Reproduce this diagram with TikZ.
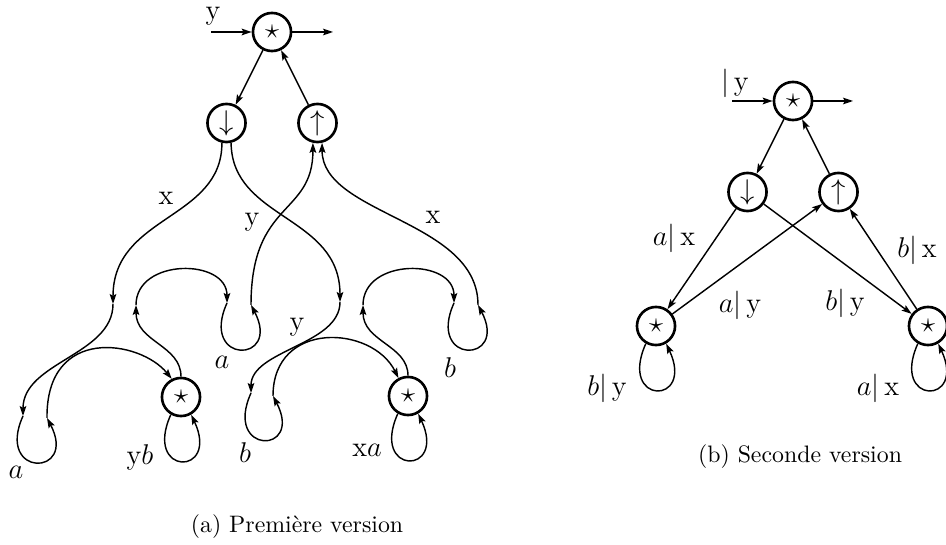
\documentclass[tikz,border=0pt]{standalone}
\usetikzlibrary{arrows.meta}
\begin{document}
\begin{tikzpicture}[x=0.42pt,y=-0.42pt,
  circ/.style={circle,draw,line width=1.1pt,minimum size=16pt,inner sep=0pt,font=\large},
  edge/.style={line width=0.6pt,-{Stealth[length=4.2pt,width=2.8pt,inset=0.8pt]}},
  lbl/.style={inner sep=0pt,font=\large},
  captxt/.style={inner sep=1pt}]
\useasboundingbox (0,0) rectangle (946,545);

% ---------- (a) ----------
\node[circ] (S0) at (272,32) {$\star$};
\node[circ] (D) at (226.5,123) {$\downarrow$};
\node[circ] (U) at (317.5,123) {$\uparrow$};
\node[circ] (S1) at (181,397) {$\star$};
\node[circ] (S2) at (408,396) {$\star$};
\coordinate (in0) at (211,32);
\coordinate (out0) at (333,32);
\coordinate (P1) at (113,304);
\coordinate (A1i) at (23,416);
\coordinate (A1o) at (47,418);
\coordinate (P3) at (136,305);
\coordinate (A2i) at (227,303);
\coordinate (A2o) at (251,305);
\coordinate (P4) at (340,302);
\coordinate (B1i) at (251,393);
\coordinate (B1o) at (273,396);
\coordinate (P5) at (363,305);
\coordinate (B2i) at (454,303);
\coordinate (B2o) at (478,305);

\draw[edge] (in0) -- (S0);
\draw[edge] (S0) -- (out0);
\draw[edge] (S0) -- (D);
\draw[edge] (U) -- (S0);
\draw[edge] (D.-103) .. controls (222,220) and (113,215) .. (P1);
\draw[edge] (D.-77) .. controls (232,220) and (340,215) .. (P4);
\draw[edge] (P1) .. controls (113,355) and (23,362) .. (A1i);
\draw[edge] (A1i) .. controls +(-28,62) and +(31,59) .. (A1o);
\draw[edge] (A1o) .. controls (46,325) and (140,340) .. (S1.117);
\draw[edge] (S1.north) .. controls (181,345) and (136,342) .. (P3);
\draw[edge] (P3) .. controls (136,258) and (227,258) .. (A2i);
\draw[edge] (A2i) .. controls +(-28,62) and +(31,59) .. (A2o);
\draw[edge] (A2o) .. controls (251,200) and (313,216) .. (U.-103);
\draw[edge] (P4) .. controls (340,345) and (251,350) .. (B1i);
\draw[edge] (B1i) .. controls +(-28,62) and +(31,59) .. (B1o);
\draw[edge] (B1o) .. controls (273,320) and (372,325) .. (S2.118);
\draw[edge] (S2.north) .. controls (408,345) and (363,342) .. (P5);
\draw[edge] (P5) .. controls (363,258) and (454,258) .. (B2i);
\draw[edge] (B2i) .. controls +(-28,62) and +(31,59) .. (B2o);
\draw[edge] (B2o) .. controls (478,220) and (322,215) .. (U.-77);
\draw[edge] (S1.-120) .. controls +(-28,62) and +(29,62) .. (S1.-60);
\draw[edge] (S2.-120) .. controls +(-28,62) and +(29,62) .. (S2.-60);

\node[lbl] (la1) at (213,16.5) {y};
\node[lbl] (la2) at (166,198) {x};
\node[lbl] (la3) at (252,222) {y};
\node[lbl] (la4) at (433,217) {x};
\node[lbl] (la5) at (297,327) {y};
\node[lbl] (la6) at (16,472) {$a$};
\node[lbl] (la7) at (222,362) {$a$};
\node[lbl] (la8) at (140,457) {y$b$};
\node[lbl] (la9) at (245,453) {$b$};
\node[lbl] (la10) at (367,450) {x$a$};
\node[lbl] (la11) at (450,368) {$b$};
\node[captxt] (capa) at (297,527) {(a) Première version};

% ---------- (b) ----------
\node[circ] (T0) at (793,101) {$\star$};
\node[circ] (D2) at (747.5,192) {$\downarrow$};
\node[circ] (U2) at (838.5,192) {$\uparrow$};
\node[circ] (L2) at (656,326) {$\star$};
\node[circ] (R2) at (928,326) {$\star$};
\coordinate (in1) at (732,101);
\coordinate (out1) at (853,101);
\draw[edge] (in1) -- (T0);
\draw[edge] (T0) -- (out1);
\draw[edge] (T0) -- (D2);
\draw[edge] (U2) -- (T0);
\draw[edge] (D2) -- (L2);
\draw[edge] (L2) -- (U2);
\draw[edge] (D2) -- (R2);
\draw[edge] (R2) -- (U2);
\draw[edge] (L2.-120) .. controls +(-28,62) and +(29,62) .. (L2.-60);
\draw[edge] (R2.-120) .. controls +(-28,62) and +(29,62) .. (R2.-60);

\node[lbl] (lb1) at (735,83) {$|$\,y};
\node[lbl] (lb2) at (674,238) {$a|$\,x};
\node[lbl] (lb3) at (917,250) {$b|$\,x};
\node[lbl] (lb4) at (740,305) {$a|$\,y};
\node[lbl] (lb5) at (845,303) {$b|$\,y};
\node[lbl] (lb6) at (607,388) {$b|$\,y};
\node[lbl] (lb7) at (878,388) {$a|$\,x};
\node[captxt] (capb) at (800,457) {(b) Seconde version};
\end{tikzpicture}
\end{document}
